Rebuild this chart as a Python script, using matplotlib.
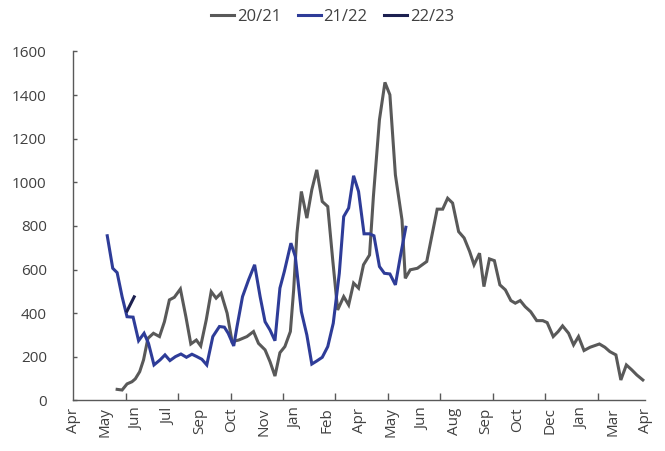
import numpy as np
import matplotlib
matplotlib.use("Agg")
import matplotlib.pyplot as plt

# ── Data (x in weeks from start of axis, y values) ───────────────────────────
weeks_2021 = [8.0, 8.9, 9.8, 10.7, 11.3, 12.1, 12.8, 13.6, 14.6, 15.7, 16.6, 17.5,
              18.4, 19.5, 20.5, 21.4, 22.4, 23.2, 24.2, 25.1, 26.0, 26.9, 28.0,
              28.9, 30.1, 31.6, 32.8, 33.7, 34.9, 35.8, 36.7, 37.6, 38.5, 39.5,
              40.1, 40.7, 41.5, 42.5, 43.4, 44.3, 45.3, 46.3, 47.2, 48.1, 49.2,
              50.1, 51.0, 51.9, 52.8, 53.9, 54.6, 55.7, 56.7, 57.6, 58.6, 59.8,
              60.4, 61.3, 62.6, 64.3, 65.2, 66.2, 67.2, 68.1, 69.0, 70.1, 71.1,
              72.1, 72.9, 73.9, 74.7, 75.7, 76.6, 77.6, 78.6, 79.6, 80.4, 81.3,
              82.2, 83.2, 84.3, 85.4, 86.2, 87.3, 88.2, 89.0, 90.1, 91.0, 91.9,
              92.9, 94.0, 95.7, 96.7, 97.6, 98.7, 99.6, 100.6, 101.6, 102.5, 103.6]
vals_2021 = [51, 48, 76, 86, 99, 132, 186, 285, 308, 293, 361, 461,
             473, 511, 384, 259, 277, 250, 369, 499, 469, 492, 400,
             270, 277, 293, 316, 262, 232, 178, 112, 219, 247, 316,
             507, 767, 958, 836, 966, 1057, 912, 889, 645, 415, 476,
             438, 538, 515, 622, 667, 935, 1287, 1458, 1401, 1034, 828,
             560, 599, 606, 637, 751, 877, 877, 927, 905, 774, 745,
             683, 622, 675, 522, 649, 641, 530, 507, 458, 446, 458,
             430, 407, 366, 366, 357, 293, 316, 342, 308, 255, 293,
             229, 244, 259, 244, 224, 209, 94, 163, 140, 117, 94]

weeks_2122 = [6.2, 7.2, 8.0, 8.9, 9.8, 10.9, 11.9, 12.9, 13.7, 14.7, 15.8, 16.7,
              17.6, 18.6, 19.6, 20.6, 21.6, 22.5, 23.4, 24.3, 25.4, 26.6, 27.5,
              28.2, 29.2, 29.8, 30.8, 31.9, 33.0, 34.0, 34.9, 35.8, 36.7, 37.6,
              38.4, 39.6, 40.4, 41.5, 42.5, 43.4, 44.3, 45.3, 46.3, 47.3, 48.4,
              49.2, 50.1, 51.0, 51.9, 52.9, 53.9, 54.7, 55.7, 56.6, 57.6, 58.6,
              59.5, 60.5]
vals_2122 = [755, 606, 586, 476, 384, 382, 274, 308, 262, 163, 186, 209,
             183, 201, 213, 198, 212, 201, 189, 163, 293, 339, 336,
             308, 250, 339, 476, 553, 622, 476, 361, 323, 274, 515,
             591, 721, 660, 407, 300, 167, 181, 198, 247, 354, 583,
             843, 882, 1030, 958, 764, 764, 755, 614, 583, 580, 530,
             660, 794]

weeks_2223 = [9.8, 10.4, 11.1]
vals_2223 = [410, 440, 475]

month_labels = ["Apr", "May", "Jun", "Jul", "Sep", "Oct", "Nov", "Jan", "Feb", "Apr",
                "May", "Jun", "Aug", "Sep", "Oct", "Dec", "Jan", "Mar", "Apr"]

GREY = "#595959"
BLUE = "#2E3C98"
NAVY = "#1C2050"
TXT = "#404040"

plt.rcParams["font.family"] = ["Open Sans", "DejaVu Sans"]

fig = plt.figure(figsize=(6.65, 4.51), dpi=100)
ax = fig.add_axes([0.110, 0.112, 0.860, 0.774])

ax.plot(weeks_2021, vals_2021, color=GREY, lw=2.2, label="20/21", solid_joinstyle="miter")
ax.plot(weeks_2122, vals_2122, color=BLUE, lw=2.2, label="21/22", solid_joinstyle="miter")
ax.plot(weeks_2223, vals_2223, color=NAVY, lw=2.2, label="22/23", solid_joinstyle="miter")

ax.set_xlim(0, 104)
ax.set_ylim(0, 1600)
ax.set_yticks(np.arange(0, 1601, 200))

# month labels (no marks) and separate tick marks
ax.set_xticks(np.linspace(0, 104, len(month_labels)))
ax.set_xticklabels(month_labels, rotation=90)
ax.tick_params(axis="x", which="major", length=0, pad=5, labelsize=11, labelcolor=TXT)
ax.set_xticks(np.arange(1, 11) * 104 / 10.9, minor=True)
ax.tick_params(axis="x", which="minor", direction="in", length=5, width=1, color=GREY)
ax.tick_params(axis="y", direction="in", length=3, width=1, color=GREY,
               labelsize=11, labelcolor=TXT, pad=19)

for s in ["top", "right"]:
    ax.spines[s].set_visible(False)
for s in ["left", "bottom"]:
    ax.spines[s].set_color(GREY)
    ax.spines[s].set_linewidth(1)

fig.legend(loc="center", bbox_to_anchor=(0.5, 0.962), ncol=3, frameon=False,
           fontsize=12, handlelength=1.4, handletextpad=0.15, columnspacing=1.0,
           labelcolor=TXT)

fig.savefig("out.png", dpi=100)
